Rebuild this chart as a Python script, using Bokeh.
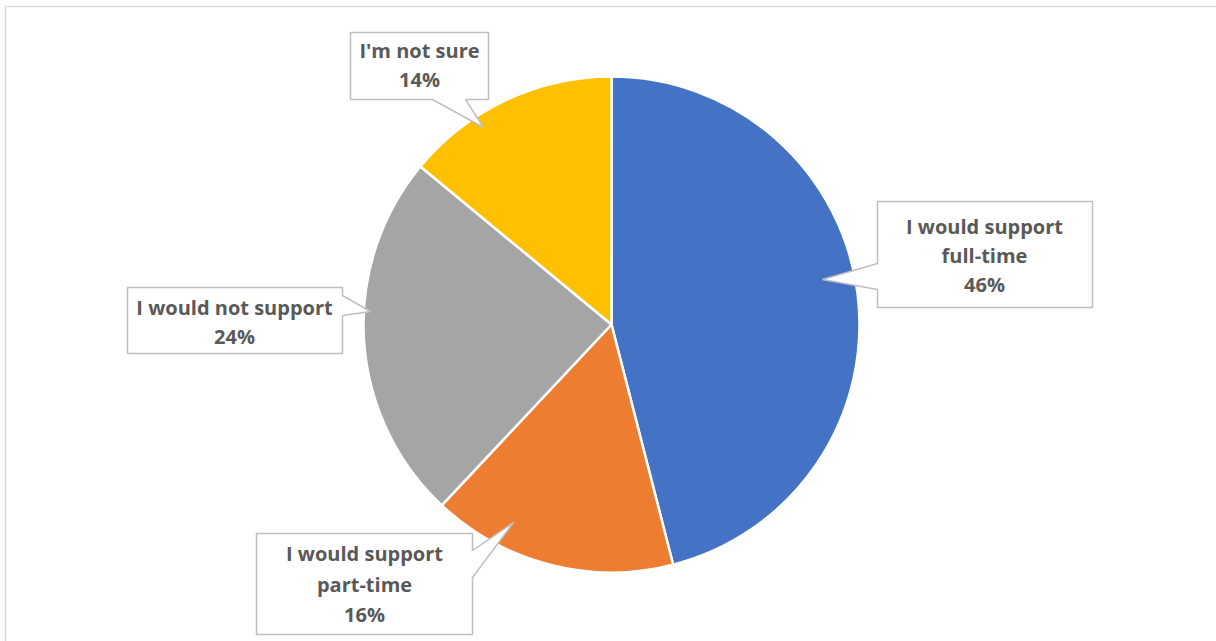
import math
from bokeh.plotting import figure
from bokeh.models import Range1d, ColumnDataSource
from bokeh.core.properties import value
from bokeh.embed import file_html
from bokeh.resources import INLINE

# ---- data ----
categories = ["I would support full-time", "I would support part-time", "I would not support", "I'm not sure"]
label_lines = [["I would support", "full-time"], ["I would support", "part-time"], ["I would not support"], ["I'm not sure"]]
percents = [46, 16, 24, 14]
colors = ["#4472C4", "#ED7D31", "#A5A5A5", "#FFC000"]

W, H = 1216, 641
def Y(py):
    return H - py

p = figure(width=W, height=H, x_range=Range1d(0, W), y_range=Range1d(0, H),
           output_backend="svg", toolbar_location=None, min_border=0)
p.axis.visible = False
p.grid.visible = False
p.outline_line_color = None
p.background_fill_color = "white"
p.border_fill_color = "white"

# chart area border
p.quad(left=[5], right=[1225], bottom=[Y(650)], top=[Y(6)], fill_color=None,
       line_color="#d9d9d9", line_width=1.5)

# pie
cx, cy, r = 611, Y(324), 248
total = sum(percents)
starts, ends = [], []
a = math.pi / 2
for v in percents:
    starts.append(a)
    a = a - v / total * 2 * math.pi
    ends.append(a)
src = ColumnDataSource(dict(start=starts, end=ends, color=colors, cat=categories))
p.wedge(x=cx, y=cy, radius=r, start_angle="start", end_angle="end", direction="clock",
        fill_color="color", line_color="white", line_width=2.5, source=src)

# callouts: box (l, t, r, b), pointer (base1, tip, base2) in pixel coords, text center x, line ys
callouts = [
    dict(box=(877, 201, 1092, 307), ptr=[(877, 289), (822, 279), (877, 263)], side="left",
         cx=984, ys=[226, 255, 284]),
    dict(box=(256, 533, 472, 634), ptr=[(472, 550), (513, 522), (472, 577)], side="right",
         cx=364, ys=[553, 584, 614]),
    dict(box=(127, 287, 342, 353), ptr=[(342, 295), (370, 311), (342, 315)], side="right",
         cx=234, ys=[307, 336]),
    dict(box=(350, 32, 488, 99), ptr=[(465, 99), (483, 127), (432, 99)], side="bottom",
         cx=419, ys=[50, 79]),
]

xs_all, ys_all = [], []
tx, ty, tt = [], [], []
for i, c in enumerate(callouts):
    l, t, rr, b = c["box"]
    ptr = c["ptr"]
    if c["side"] == "left":
        pts = [(l, t), (rr, t), (rr, b), (l, b)] + ptr
    elif c["side"] == "right":
        pts = [(l, t)] + [(rr, t)] + ptr + [(rr, b), (l, b)]
    else:  # bottom
        pts = [(l, t), (rr, t), (rr, b)] + ptr + [(l, b)]
    xs_all.append([q[0] for q in pts])
    ys_all.append([Y(q[1]) for q in pts])
    lines = label_lines[i] + [f"{percents[i]}%"]
    for ln, yy in zip(lines, c["ys"]):
        tx.append(c["cx"]); ty.append(Y(yy)); tt.append(ln)

p.patches(xs=xs_all, ys=ys_all, fill_color="white", line_color="#bfbfbf", line_width=1.5)
p.text(x=tx, y=ty, text=tt, text_align="center", text_baseline="middle",
       text_font=value("Open Sans"), text_font_style="bold", text_font_size="20px",
       text_color="#595959")

open("out.html", "w").write(file_html(p, INLINE))
